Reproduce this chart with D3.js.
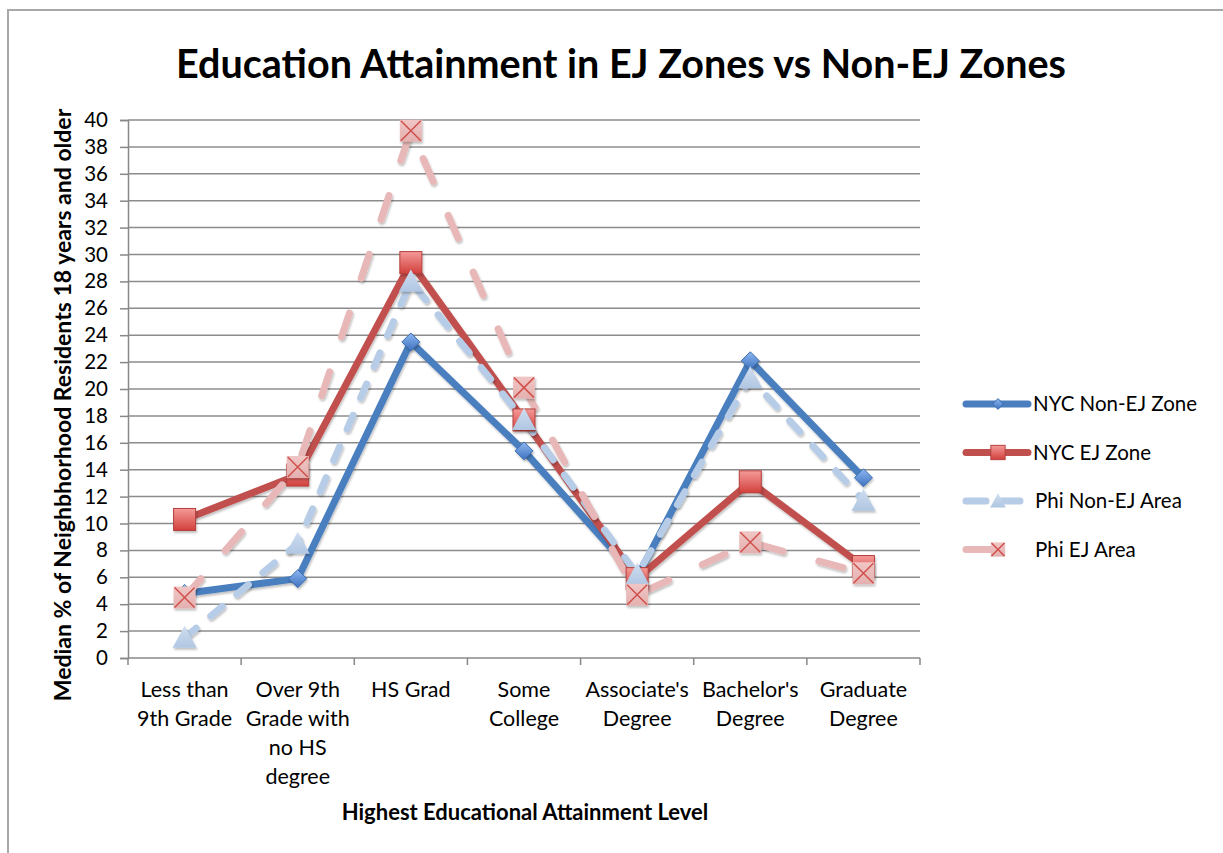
<!DOCTYPE html>
<html>
<head>
<meta charset="utf-8">
<script src="https://cdn.jsdelivr.net/npm/d3@7"></script>
<style>
  body { margin: 0; background: #fff; }
  svg { display: block; font-family: Lato, "Open Sans", sans-serif; }
</style>
</head>
<body>
<div id="chart"></div>
<script>
// categories and values
const categories = [
    ["Less than", "9th Grade"],
    ["Over 9th", "Grade with", "no HS", "degree"],
    ["HS Grad"],
    ["Some", "College"],
    ["Associate's", "Degree"],
    ["Bachelor's", "Degree"],
    ["Graduate", "Degree"]
];
const nycNonEJ = [4.8, 5.9, 23.5, 15.4, 6.0, 22.1, 13.4];
const nycEJ = [10.3, 13.6, 29.4, 17.7, 5.9, 13.1, 6.8];
const phiNonEJ = [1.5, 8.5, 28.0, 17.7, 6.2, 20.8, 11.7];
const phiEJ = [4.5, 14.2, 39.2, 20.1, 4.7, 8.6, 6.3];
const seriesNames = ["NYC Non-EJ Zone", "NYC EJ Zone", "Phi Non-EJ Area", "Phi EJ Area"];
const yTicks = d3.range(0, 41, 2);

const W = 1223, H = 853;
const plot = { left: 128, right: 920, top: 120, bottom: 658 };

const svg = d3.select("#chart").append("svg")
    .attr("width", W)
    .attr("height", H);

const defs = svg.append("defs");
function grad(id, c1, c2) {
    const g = defs.append("linearGradient").attr("id", id)
        .attr("x1", 0).attr("y1", 0).attr("x2", 0).attr("y2", 1);
    g.append("stop").attr("offset", "0%").attr("stop-color", c1);
    g.append("stop").attr("offset", "100%").attr("stop-color", c2);
}
grad("gBlue", "#8db7f0", "#3f72c0");
grad("gRed", "#f49a98", "#d2403c");
grad("gLight", "#d0def0", "#b0c6e2");
grad("gPink", "#f0c6c5", "#e3b0af");

const shadow = defs.append("filter").attr("id", "shadow")
    .attr("x", "-20%").attr("y", "-20%").attr("width", "140%").attr("height", "140%");
shadow.append("feDropShadow").attr("dx", 1).attr("dy", 2).attr("stdDeviation", 1.2)
    .attr("flood-color", "#000").attr("flood-opacity", 0.25);

// frame around the chart object
svg.append("path")
    .attr("d", `M8,${H} L8,10 L${W},10`)
    .attr("fill", "none")
    .attr("stroke", "#a8a8a8")
    .attr("stroke-width", 2);

svg.append("text")
    .attr("x", 621)
    .attr("y", 78)
    .attr("text-anchor", "middle")
    .attr("font-size", 39.5)
    .attr("font-weight", "bold")
    .attr("fill", "#000")
    .text("Education Attainment in EJ Zones vs Non-EJ Zones");

const x = d3.scaleBand()
    .domain(d3.range(categories.length))
    .range([plot.left, plot.right]);
const cx = i => x(i) + x.bandwidth() / 2;

const y = d3.scaleLinear()
    .domain([0, 40])
    .range([plot.bottom, plot.top]);

// gridlines + y axis
const yAxis = svg.append("g")
    .attr("transform", `translate(${plot.left},0)`)
    .call(d3.axisLeft(y).tickValues(yTicks).tickSize(8).tickPadding(12));
yAxis.select(".domain").attr("stroke", "#888").attr("stroke-width", 1.5);
yAxis.selectAll(".tick line").attr("stroke", "#888").attr("stroke-width", 1.5);
yAxis.selectAll(".tick text")
    .attr("font-size", 20.5)
    .attr("fill", "#000")
    .attr("font-family", "Lato, sans-serif");

svg.append("g")
    .selectAll("line")
    .data(yTicks.filter(d => d > 0))
    .join("line")
    .attr("x1", plot.left)
    .attr("x2", plot.right)
    .attr("y1", d => y(d))
    .attr("y2", d => y(d))
    .attr("stroke", "#8c8c8c")
    .attr("stroke-width", 1.5);

// x axis
svg.append("line")
    .attr("x1", plot.left).attr("x2", plot.right)
    .attr("y1", plot.bottom).attr("y2", plot.bottom)
    .attr("stroke", "#888").attr("stroke-width", 1.5);
const edges = categories.map((c, i) => x(i)).concat([plot.right]);
svg.append("g").selectAll("line")
    .data(edges)
    .join("line")
    .attr("x1", d => d).attr("x2", d => d)
    .attr("y1", plot.bottom).attr("y2", plot.bottom + 7)
    .attr("stroke", "#888").attr("stroke-width", 1.5);

const xl = svg.append("g").selectAll("text")
    .data(categories)
    .join("text")
    .attr("x", (d, i) => cx(i))
    .attr("y", 697)
    .attr("text-anchor", "middle")
    .attr("font-size", 21.5)
    .attr("fill", "#000");
xl.selectAll("tspan")
    .data(d => d)
    .join("tspan")
    .attr("x", function () { return this.parentNode.getAttribute("x"); })
    .attr("dy", (d, i) => i === 0 ? 0 : 29)
    .text(d => d);

svg.append("text")
    .attr("x", 525)
    .attr("y", 820)
    .attr("text-anchor", "middle")
    .attr("font-size", 22)
    .attr("font-weight", "bold")
    .text("Highest Educational Attainment Level");

svg.append("text")
    .attr("transform", `translate(71,405) rotate(-90)`)
    .attr("text-anchor", "middle")
    .attr("font-size", 23)
    .attr("font-weight", "bold")
    .text("Median % of Neighbhorhood Residents 18 years and older");

// series
const series = [
    { name: seriesNames[0], values: nycNonEJ, color: "#4a7ebf", dash: null, legendDash: null, marker: "diamond" },
    { name: seriesNames[1], values: nycEJ, color: "#c0504d", dash: null, legendDash: null, marker: "square" },
    { name: seriesNames[2], values: phiNonEJ, color: "#b7cce6", dash: "15,19", legendDash: "20,14", marker: "triangle" },
    { name: seriesNames[3], values: phiEJ, color: "#e7b8b7", dash: "25,37", legendDash: "28,60", marker: "x" }
];

const line = d3.line()
    .x((d, i) => cx(i))
    .y(d => y(d));

function drawMarker(g, type, s) {
    if (type === "diamond") {
        g.append("path")
            .attr("d", `M0,${-9 * s} L${9 * s},0 L0,${9 * s} L${-9 * s},0 Z`)
            .attr("fill", "url(#gBlue)")
            .attr("stroke", "#3c6db0").attr("stroke-width", 1);
    } else if (type === "square") {
        g.append("rect")
            .attr("x", -11 * s).attr("y", -11 * s)
            .attr("width", 22 * s).attr("height", 22 * s)
            .attr("fill", "url(#gRed)")
            .attr("stroke", "#b5403d").attr("stroke-width", 1);
    } else if (type === "triangle") {
        g.append("path")
            .attr("d", `M0,${-12 * s} L${12 * s},${10 * s} L${-12 * s},${10 * s} Z`)
            .attr("fill", "url(#gLight)");
    } else {
        g.append("rect")
            .attr("x", -11 * s).attr("y", -11 * s)
            .attr("width", 22 * s).attr("height", 22 * s)
            .attr("fill", "url(#gPink)");
        g.append("path")
            .attr("d", `M${-10 * s},${-10 * s} L${10 * s},${10 * s} M${10 * s},${-10 * s} L${-10 * s},${10 * s}`)
            .attr("stroke", "#d0504c").attr("stroke-width", 1.5);
    }
}

const seriesG = svg.append("g");
series.forEach(s => {
    seriesG.append("path")
        .datum(s.values)
        .attr("d", line)
        .attr("fill", "none")
        .attr("stroke", s.color)
        .attr("stroke-width", 7)
        .attr("stroke-linecap", "round")
        .attr("stroke-linejoin", "round")
        .attr("stroke-dasharray", s.dash)
        .attr("filter", "url(#shadow)");
});
series.forEach(s => {
    s.values.forEach((v, i) => {
        const g = seriesG.append("g")
            .attr("transform", `translate(${cx(i)},${y(v)})`)
            .attr("filter", "url(#shadow)");
        drawMarker(g, s.marker, 1);
    });
});

// legend
const legend = svg.append("g");
series.forEach((s, i) => {
    const ly = 404 + i * 48.5;
    legend.append("line")
        .attr("x1", 966).attr("x2", 1028)
        .attr("y1", ly).attr("y2", ly)
        .attr("stroke", s.color)
        .attr("stroke-width", 7)
        .attr("stroke-linecap", "round")
        .attr("stroke-dasharray", s.legendDash);
    const g = legend.append("g").attr("transform", `translate(998,${ly})`);
    drawMarker(g, s.marker, s.marker === "diamond" ? 0.6 : 0.65);
    legend.append("text")
        .attr("x", s.dash ? 1035 : 1033)
        .attr("y", ly + 7)
        .attr("font-size", 20.5)
        .text(s.name);
});
</script>
</body>
</html>
